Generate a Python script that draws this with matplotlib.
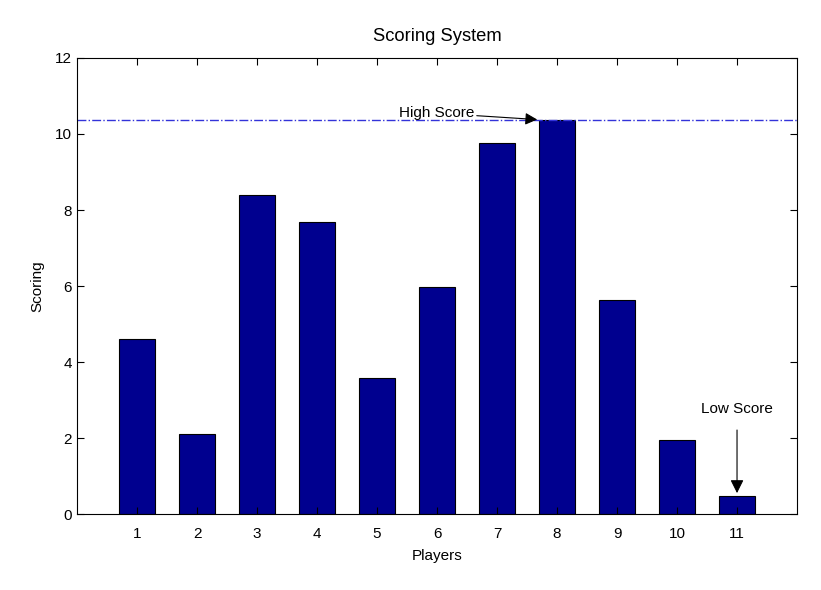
import numpy as np
import matplotlib.pyplot as plt

players = np.arange(1, 12)
scores = [4.6, 2.1, 8.4, 7.69, 3.59, 5.98, 9.75, 10.38, 5.63, 1.95, 0.47]

plt.rcParams['font.family'] = ['Liberation Sans', 'DejaVu Sans']
plt.rcParams['font.size'] = 11

fig = plt.figure(figsize=(8.21, 5.90), dpi=100)
ax = fig.add_axes([0.0938, 0.1288, 0.877, 0.7729])

ax.bar(players, scores, width=0.6, color=(0, 0, 0.5625), edgecolor='black', lw=0.8)
high = max(scores)
ax.axhline(high, color=(0.2, 0.2, 0.85), ls='-.', lw=1.0)

ax.set_xlim(0, 12)
ax.set_ylim(0, 12)
ax.set_xticks(players)
ax.set_yticks(np.arange(0, 13, 2))
ax.tick_params(direction='in', top=True, right=True, length=5)
ax.tick_params(axis='x', pad=9)

ax.set_title('Scoring System', pad=12)
ax.set_xlabel('Players', labelpad=6)
ax.set_ylabel('Scoring', labelpad=8)

# annotations
ax.annotate('High Score', xy=(7.67, high), xytext=(5.36, 10.55), va='center', ha='left',
            arrowprops=dict(arrowstyle='-|>', color='black', lw=0.8, shrinkA=0, shrinkB=0,
                            mutation_scale=18))
low = min(scores)
ax.annotate('Low Score', xy=(11, low + 0.08), xytext=(11, 2.76), va='center', ha='center',
            arrowprops=dict(arrowstyle='-|>', color='black', lw=0.8, shrinkA=8, shrinkB=0,
                            mutation_scale=20))

for s in ax.spines.values():
    s.set_linewidth(0.8)

fig.savefig('out.png')
